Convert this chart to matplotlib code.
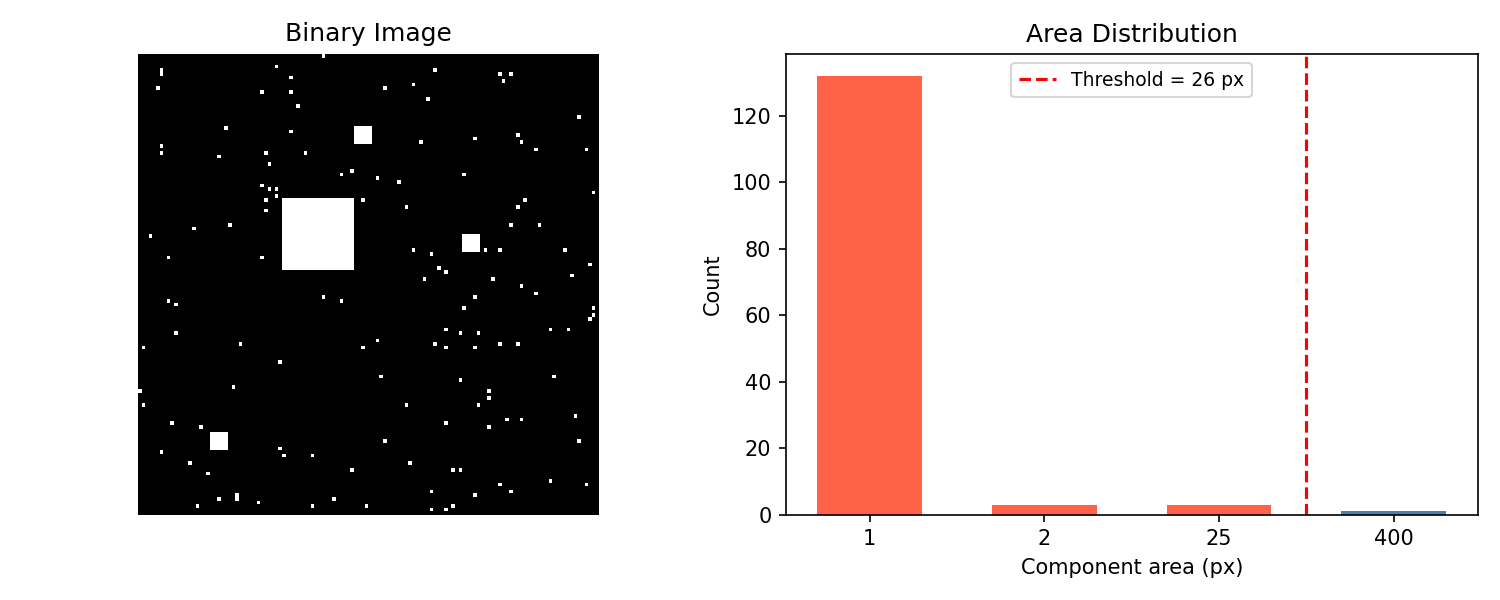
import numpy as np
import matplotlib
matplotlib.use("Agg")
import matplotlib.pyplot as plt

size = 128
# single/small dots: (col, row)
dot_cols = [51,38,6,6,5,42,34,42,44,24,42,6,6,22,35,36,46,56,59,34,36,38,35,38,35,62,15,25,3,8,34,
            82,100,103,101,68,76,80,122,78,93,105,106,110,124,66,72,90,126,74,107,105,103,111,76,81,96,100,118,125,83,85,79,98,120,106,
            8,10,51,56,10,1,28,62,39,26,0,1,9,17,6,14,39,40,48,19,59,22,27,27,16,33,48,54,63,
            110,93,90,126,126,125,85,89,94,114,119,66,82,85,93,100,105,67,89,115,97,97,74,94,121,85,102,106,97,68,122,75,87,89,114,100,103,124,81,93,87,81,85]
dot_rows = [0,3,4,5,9,6,10,10,14,20,21,25,27,28,27,30,27,33,32,36,37,37,40,39,43,40,48,47,50,56,56,
            4,5,5,7,9,8,12,17,24,23,22,24,26,26,34,35,33,38,42,40,42,47,47,54,55,54,54,54,58,59,60,62,62,61,64,
            68,69,67,68,77,81,80,81,85,92,93,97,102,103,110,113,109,111,111,116,115,123,122,123,125,124,125,123,125,
            66,67,70,70,72,73,76,77,77,76,76,79,80,81,81,80,80,89,90,89,93,95,97,97,100,102,101,101,103,107,107,113,115,115,118,119,121,119,121,122,125,126,126]
# squares: (col0, row0, side)
sq_cols = [40, 60, 90, 20]
sq_rows = [40, 20, 50, 105]
sq_sides = [20, 5, 5, 5]

areas = ["1", "2", "25", "400"]
counts = [132, 3, 3, 1]
bar_colors = ["#ff6347", "#ff6347", "#ff6347", "#4682b4"]
threshold = 26

img = np.zeros((size, size))
for c, r in zip(dot_cols, dot_rows):
    img[r, c] = 1
for c, r, s in zip(sq_cols, sq_rows, sq_sides):
    img[r:r+s, c:c+s] = 1

fig, (ax1, ax2) = plt.subplots(1, 2, figsize=(10, 4), dpi=150)
ax1.imshow(img, cmap="gray", interpolation="nearest")
ax1.set_title("Binary Image")
ax1.axis("off")

x = np.arange(len(areas))
ax2.bar(x, counts, width=0.6, color=bar_colors)
ax2.axvline(2.5, color="red", linestyle="--", label=f"Threshold = {threshold} px")
ax2.set_xticks(x)
ax2.set_xticklabels(areas)
ax2.set_xlabel("Component area (px)")
ax2.set_ylabel("Count")
ax2.set_title("Area Distribution")
ax2.legend(loc="upper center", fontsize=9)
fig.tight_layout()
fig.savefig("out.png")
